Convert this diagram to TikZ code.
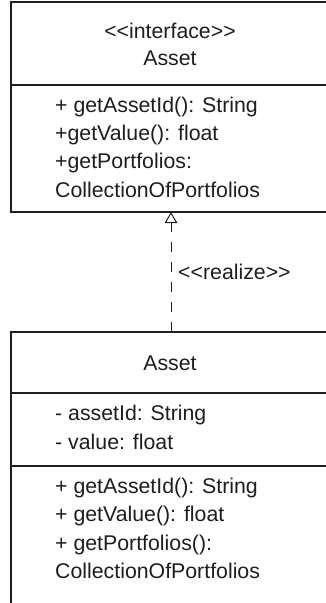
\documentclass[tikz,border=0pt]{standalone}
\usepackage{fontspec}
\newfontfamily\umlfont{Liberation Sans}
\usetikzlibrary{arrows.meta,calc}
\definecolor{ink}{HTML}{1E1E1E}
\tikzset{
  compart/.style={draw=ink, line width=1.1pt, fill=white, rectangle, inner sep=0pt, outer sep=0pt, anchor=north west, minimum width=330pt},
  txt/.style={text=ink, inner sep=0pt, font=\umlfont\fontsize{21.3}{28.5}\selectfont},
  realizes/.style={draw=ink, line width=1pt, dash pattern=on 10pt off 10pt, -{Triangle[open, length=11pt, width=12.5pt, fill=white]}}
}
\begin{document}
\begin{tikzpicture}[x=1pt,y=-1pt]
\useasboundingbox (0,0) rectangle (326,603);
\clip (0,0) rectangle (326,603);
% interface box
\node[compart, minimum height=83pt] (ihead) at (11,2) {};
\node[compart, minimum height=127pt] (ibody) at (11,85) {};
% class box
\node[compart, minimum height=61pt] (chead) at (11,332) {};
\node[compart, minimum height=73pt] (cattr) at (11,393) {};
\node[compart, minimum height=170pt] (cmeth) at (11,466) {};
% texts of interface
\node[txt, anchor=base] (istereo) at (170,38) {<<interface>>};
\node[txt, anchor=base] (iname) at (170,65) {Asset};
\node[txt, anchor=base west] (im1) at (55,112) {+ getAssetId(): String};
\node[txt, anchor=base west] (im2) at (55,140) {+getValue(): float};
\node[txt, anchor=base west] (im3) at (55,168.5) {+getPortfolios:};
\node[txt, anchor=base west] (im4) at (55,197) {CollectionOfPortfolios};
% texts of class
\node[txt, anchor=base] (cname) at (170,370) {Asset};
\node[txt, anchor=base west] (ca1) at (55,420) {- assetId: String};
\node[txt, anchor=base west] (ca2) at (55,449) {- value: float};
\node[txt, anchor=base west] (cm1) at (55,493) {+ getAssetId(): String};
\node[txt, anchor=base west] (cm2) at (55,521.5) {+ getValue(): float};
\node[txt, anchor=base west] (cm3) at (55,550) {+ getPortfolios():};
\node[txt, anchor=base west] (cm4) at (55,578.5) {CollectionOfPortfolios};
% realization
\draw[realizes] ($(chead.north west)+(160,0)$) -- ($(ibody.south west)+(160,0)$);
\node[txt, anchor=base west] (rlabel) at (178,279) {<<realize>>};
\end{tikzpicture}
\end{document}
